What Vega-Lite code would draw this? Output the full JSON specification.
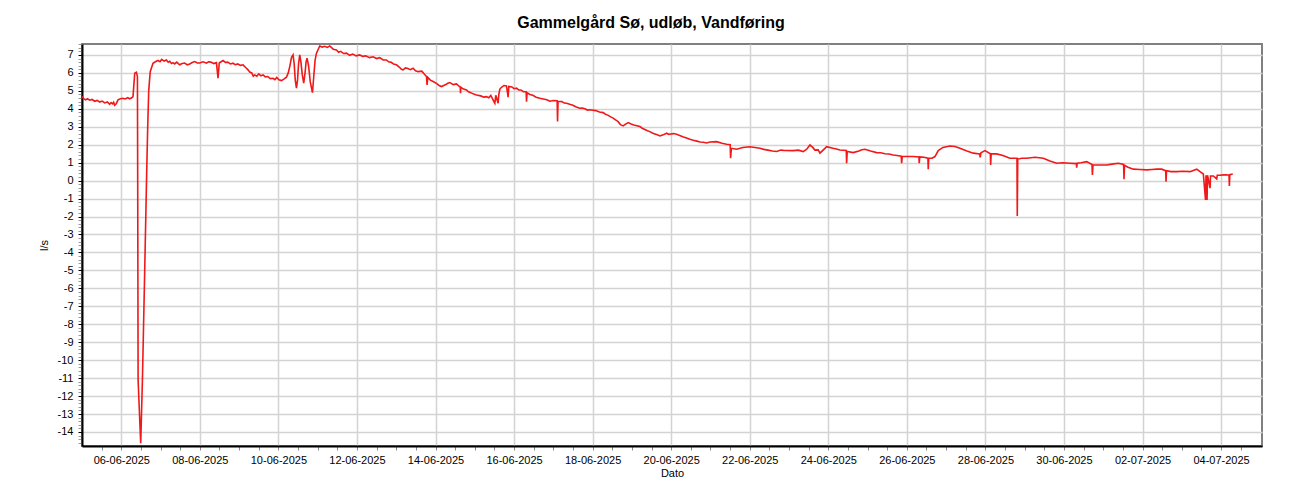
{
  "$schema": "https://vega.github.io/schema/vega-lite/v6.json",
  "autosize": {"type": "none"},
  "width": 1180,
  "height": 402,
  "padding": {"left": 82, "top": 44, "right": 38, "bottom": 54},
  "background": "white",
  "title": {
    "text": "Gammelgård Sø, udløb, Vandføring",
    "font": "Liberation Sans",
    "fontSize": 16,
    "fontWeight": "bold",
    "color": "black",
    "anchor": "middle",
    "dx": -21,
    "offset": 7
  },
  "config": {
    "view": {"stroke": "#808080", "strokeWidth": 2},
    "axis": {
      "labelFont": "Liberation Sans",
      "labelFontSize": 11,
      "labelColor": "black",
      "titleFont": "Liberation Sans",
      "titleFontSize": 11,
      "titleFontWeight": "normal",
      "titleColor": "black",
      "domainColor": "black",
      "domainWidth": 2,
      "gridColor": "#d3d3d3",
      "gridWidth": 1.5,
      "labelOverlap": false
    }
  },
  "data": {
    "values": [
      {"t": "2025-06-05T00:00", "v": 4.68},
      {"t": "2025-06-05T01:10", "v": 4.55},
      {"t": "2025-06-05T02:16", "v": 4.5},
      {"t": "2025-06-05T03:20", "v": 4.56},
      {"t": "2025-06-05T04:43", "v": 4.48},
      {"t": "2025-06-05T06:10", "v": 4.52},
      {"t": "2025-06-05T07:46", "v": 4.42},
      {"t": "2025-06-05T09:15", "v": 4.47},
      {"t": "2025-06-05T10:49", "v": 4.38},
      {"t": "2025-06-05T12:20", "v": 4.43},
      {"t": "2025-06-05T13:52", "v": 4.33},
      {"t": "2025-06-05T15:30", "v": 4.38},
      {"t": "2025-06-05T16:56", "v": 4.25},
      {"t": "2025-06-05T17:50", "v": 4.35},
      {"t": "2025-06-05T18:46", "v": 4.28},
      {"t": "2025-06-05T19:20", "v": 4.36},
      {"t": "2025-06-05T19:59", "v": 4.2},
      {"t": "2025-06-05T21:00", "v": 4.3},
      {"t": "2025-06-05T22:00", "v": 4.5},
      {"t": "2025-06-05T23:30", "v": 4.56},
      {"t": "2025-06-06T00:53", "v": 4.59},
      {"t": "2025-06-06T02:20", "v": 4.55},
      {"t": "2025-06-06T03:56", "v": 4.62},
      {"t": "2025-06-06T05:00", "v": 4.56},
      {"t": "2025-06-06T06:11", "v": 4.6},
      {"t": "2025-06-06T07:10", "v": 4.68},
      {"t": "2025-06-06T08:13", "v": 5.98},
      {"t": "2025-06-06T09:15", "v": 6.04},
      {"t": "2025-06-06T09:52", "v": 5.8},
      {"t": "2025-06-06T10:02", "v": 0},
      {"t": "2025-06-06T10:17", "v": -11.1},
      {"t": "2025-06-06T11:52", "v": -14.63},
      {"t": "2025-06-06T12:55", "v": -11.1},
      {"t": "2025-06-06T14:19", "v": -5},
      {"t": "2025-06-06T15:32", "v": 0.5},
      {"t": "2025-06-06T16:09", "v": 3.0},
      {"t": "2025-06-06T16:46", "v": 5.0},
      {"t": "2025-06-06T17:41", "v": 6.07},
      {"t": "2025-06-06T19:23", "v": 6.54},
      {"t": "2025-06-06T20:50", "v": 6.62},
      {"t": "2025-06-06T22:27", "v": 6.69},
      {"t": "2025-06-06T23:40", "v": 6.62},
      {"t": "2025-06-07T00:43", "v": 6.75},
      {"t": "2025-06-07T02:10", "v": 6.66},
      {"t": "2025-06-07T03:35", "v": 6.72},
      {"t": "2025-06-07T04:40", "v": 6.6},
      {"t": "2025-06-07T05:36", "v": 6.65},
      {"t": "2025-06-07T06:40", "v": 6.52},
      {"t": "2025-06-07T07:37", "v": 6.57},
      {"t": "2025-06-07T08:40", "v": 6.5},
      {"t": "2025-06-07T09:53", "v": 6.6},
      {"t": "2025-06-07T10:50", "v": 6.52},
      {"t": "2025-06-07T11:43", "v": 6.45},
      {"t": "2025-06-07T13:10", "v": 6.52},
      {"t": "2025-06-07T14:46", "v": 6.55},
      {"t": "2025-06-07T16:20", "v": 6.45},
      {"t": "2025-06-07T17:49", "v": 6.5},
      {"t": "2025-06-07T19:20", "v": 6.58},
      {"t": "2025-06-07T20:53", "v": 6.63},
      {"t": "2025-06-07T22:30", "v": 6.55},
      {"t": "2025-06-07T23:56", "v": 6.55},
      {"t": "2025-06-08T02:00", "v": 6.62},
      {"t": "2025-06-08T04:02", "v": 6.54},
      {"t": "2025-06-08T05:20", "v": 6.62},
      {"t": "2025-06-08T06:40", "v": 6.6},
      {"t": "2025-06-08T08:30", "v": 6.52},
      {"t": "2025-06-08T10:08", "v": 6.57},
      {"t": "2025-06-08T11:07", "v": 5.7},
      {"t": "2025-06-08T11:51", "v": 6.55},
      {"t": "2025-06-08T13:00", "v": 6.62},
      {"t": "2025-06-08T14:11", "v": 6.69},
      {"t": "2025-06-08T15:40", "v": 6.58},
      {"t": "2025-06-08T17:03", "v": 6.6},
      {"t": "2025-06-08T18:40", "v": 6.5},
      {"t": "2025-06-08T20:17", "v": 6.54},
      {"t": "2025-06-08T21:40", "v": 6.46},
      {"t": "2025-06-08T23:10", "v": 6.5},
      {"t": "2025-06-09T00:50", "v": 6.42},
      {"t": "2025-06-09T02:24", "v": 6.45},
      {"t": "2025-06-09T04:00", "v": 6.3},
      {"t": "2025-06-09T05:27", "v": 6.17},
      {"t": "2025-06-09T06:30", "v": 6.05},
      {"t": "2025-06-09T07:43", "v": 6.0},
      {"t": "2025-06-09T08:40", "v": 5.82},
      {"t": "2025-06-09T09:33", "v": 5.89},
      {"t": "2025-06-09T10:50", "v": 5.82},
      {"t": "2025-06-09T12:00", "v": 5.95},
      {"t": "2025-06-09T13:20", "v": 5.84},
      {"t": "2025-06-09T14:37", "v": 5.89},
      {"t": "2025-06-09T16:00", "v": 5.78},
      {"t": "2025-06-09T17:29", "v": 5.8},
      {"t": "2025-06-09T19:00", "v": 5.68},
      {"t": "2025-06-09T20:44", "v": 5.7},
      {"t": "2025-06-09T21:50", "v": 5.62},
      {"t": "2025-06-09T22:59", "v": 5.75},
      {"t": "2025-06-10T00:20", "v": 5.62},
      {"t": "2025-06-10T01:52", "v": 5.57},
      {"t": "2025-06-10T03:20", "v": 5.65},
      {"t": "2025-06-10T04:55", "v": 5.76},
      {"t": "2025-06-10T06:01", "v": 6.0},
      {"t": "2025-06-10T06:56", "v": 6.35},
      {"t": "2025-06-10T07:59", "v": 6.85},
      {"t": "2025-06-10T08:57", "v": 7.0},
      {"t": "2025-06-10T09:39", "v": 6.5},
      {"t": "2025-06-10T10:18", "v": 5.6},
      {"t": "2025-06-10T11:02", "v": 5.15},
      {"t": "2025-06-10T11:42", "v": 5.6},
      {"t": "2025-06-10T12:19", "v": 6.5},
      {"t": "2025-06-10T13:03", "v": 7.0},
      {"t": "2025-06-10T13:47", "v": 6.6},
      {"t": "2025-06-10T14:35", "v": 5.9},
      {"t": "2025-06-10T15:29", "v": 5.43},
      {"t": "2025-06-10T16:17", "v": 6.0},
      {"t": "2025-06-10T16:54", "v": 6.6},
      {"t": "2025-06-10T17:31", "v": 6.82},
      {"t": "2025-06-10T18:26", "v": 6.4},
      {"t": "2025-06-10T19:28", "v": 5.5},
      {"t": "2025-06-10T20:49", "v": 4.9},
      {"t": "2025-06-10T21:36", "v": 5.8},
      {"t": "2025-06-10T22:24", "v": 6.7},
      {"t": "2025-06-10T23:16", "v": 7.1},
      {"t": "2025-06-11T01:16", "v": 7.5},
      {"t": "2025-06-11T02:50", "v": 7.44},
      {"t": "2025-06-11T04:20", "v": 7.48},
      {"t": "2025-06-11T05:50", "v": 7.42},
      {"t": "2025-06-11T07:23", "v": 7.5},
      {"t": "2025-06-11T09:30", "v": 7.32},
      {"t": "2025-06-11T11:29", "v": 7.28},
      {"t": "2025-06-11T12:50", "v": 7.15},
      {"t": "2025-06-11T14:07", "v": 7.2},
      {"t": "2025-06-11T15:50", "v": 7.08},
      {"t": "2025-06-11T17:35", "v": 7.1},
      {"t": "2025-06-11T19:30", "v": 6.98},
      {"t": "2025-06-11T21:26", "v": 7.05},
      {"t": "2025-06-11T23:30", "v": 6.95},
      {"t": "2025-06-12T01:43", "v": 7.0},
      {"t": "2025-06-12T03:30", "v": 6.92},
      {"t": "2025-06-12T05:23", "v": 6.95},
      {"t": "2025-06-12T07:40", "v": 6.85},
      {"t": "2025-06-12T09:51", "v": 6.9},
      {"t": "2025-06-12T12:00", "v": 6.8},
      {"t": "2025-06-12T13:56", "v": 6.85},
      {"t": "2025-06-12T16:00", "v": 6.72},
      {"t": "2025-06-12T18:02", "v": 6.72},
      {"t": "2025-06-12T19:20", "v": 6.62},
      {"t": "2025-06-12T20:40", "v": 6.6},
      {"t": "2025-06-12T22:20", "v": 6.5},
      {"t": "2025-06-13T00:09", "v": 6.45},
      {"t": "2025-06-13T02:10", "v": 6.3},
      {"t": "2025-06-13T03:10", "v": 6.2},
      {"t": "2025-06-13T04:11", "v": 6.17},
      {"t": "2025-06-13T05:40", "v": 6.28},
      {"t": "2025-06-13T07:04", "v": 6.25},
      {"t": "2025-06-13T08:40", "v": 6.18},
      {"t": "2025-06-13T10:18", "v": 6.26},
      {"t": "2025-06-13T11:50", "v": 6.12},
      {"t": "2025-06-13T13:21", "v": 6.07},
      {"t": "2025-06-13T15:37", "v": 6.1},
      {"t": "2025-06-13T17:00", "v": 5.95},
      {"t": "2025-06-13T18:29", "v": 5.8},
      {"t": "2025-06-13T18:51", "v": 5.33},
      {"t": "2025-06-13T19:17", "v": 5.75},
      {"t": "2025-06-13T20:50", "v": 5.6},
      {"t": "2025-06-13T22:31", "v": 5.52},
      {"t": "2025-06-14T00:47", "v": 5.4},
      {"t": "2025-06-14T02:10", "v": 5.3},
      {"t": "2025-06-14T03:39", "v": 5.24},
      {"t": "2025-06-14T05:00", "v": 5.3},
      {"t": "2025-06-14T06:17", "v": 5.35},
      {"t": "2025-06-14T07:30", "v": 5.42},
      {"t": "2025-06-14T08:44", "v": 5.46},
      {"t": "2025-06-14T10:50", "v": 5.35},
      {"t": "2025-06-14T12:49", "v": 5.39},
      {"t": "2025-06-14T15:08", "v": 5.2},
      {"t": "2025-06-14T15:16", "v": 4.87},
      {"t": "2025-06-14T15:27", "v": 5.2},
      {"t": "2025-06-14T17:10", "v": 5.1},
      {"t": "2025-06-14T18:56", "v": 5.05},
      {"t": "2025-06-14T20:10", "v": 4.95},
      {"t": "2025-06-14T21:34", "v": 4.9},
      {"t": "2025-06-14T23:20", "v": 4.82},
      {"t": "2025-06-15T01:03", "v": 4.77},
      {"t": "2025-06-15T03:40", "v": 4.72},
      {"t": "2025-06-15T05:30", "v": 4.65},
      {"t": "2025-06-15T07:10", "v": 4.68},
      {"t": "2025-06-15T08:30", "v": 4.62},
      {"t": "2025-06-15T09:47", "v": 4.75},
      {"t": "2025-06-15T12:14", "v": 4.31},
      {"t": "2025-06-15T12:50", "v": 4.75},
      {"t": "2025-06-15T14:15", "v": 4.31},
      {"t": "2025-06-15T14:41", "v": 4.8},
      {"t": "2025-06-15T15:20", "v": 5.1},
      {"t": "2025-06-15T16:20", "v": 5.2},
      {"t": "2025-06-15T17:50", "v": 5.3},
      {"t": "2025-06-15T19:23", "v": 5.28},
      {"t": "2025-06-15T20:22", "v": 4.65},
      {"t": "2025-06-15T20:47", "v": 5.25},
      {"t": "2025-06-15T22:38", "v": 5.22},
      {"t": "2025-06-16T00:00", "v": 5.12},
      {"t": "2025-06-16T01:30", "v": 5.15},
      {"t": "2025-06-16T02:50", "v": 5.05},
      {"t": "2025-06-16T04:08", "v": 5.05},
      {"t": "2025-06-16T05:40", "v": 4.95},
      {"t": "2025-06-16T07:22", "v": 4.95},
      {"t": "2025-06-16T07:37", "v": 4.4},
      {"t": "2025-06-16T07:55", "v": 4.9},
      {"t": "2025-06-16T09:40", "v": 4.8},
      {"t": "2025-06-16T11:28", "v": 4.75},
      {"t": "2025-06-16T13:30", "v": 4.65},
      {"t": "2025-06-16T15:44", "v": 4.59},
      {"t": "2025-06-16T17:50", "v": 4.55},
      {"t": "2025-06-16T20:01", "v": 4.5},
      {"t": "2025-06-16T21:50", "v": 4.42},
      {"t": "2025-06-16T23:52", "v": 4.46},
      {"t": "2025-06-17T02:19", "v": 4.45},
      {"t": "2025-06-17T02:34", "v": 3.29},
      {"t": "2025-06-17T02:52", "v": 4.42},
      {"t": "2025-06-17T05:11", "v": 4.4},
      {"t": "2025-06-17T06:40", "v": 4.32},
      {"t": "2025-06-17T08:04", "v": 4.31},
      {"t": "2025-06-17T10:00", "v": 4.25},
      {"t": "2025-06-17T11:55", "v": 4.2},
      {"t": "2025-06-17T14:00", "v": 4.1},
      {"t": "2025-06-17T16:11", "v": 4.03},
      {"t": "2025-06-17T17:40", "v": 4.04},
      {"t": "2025-06-17T19:15", "v": 4.0},
      {"t": "2025-06-17T20:50", "v": 3.93},
      {"t": "2025-06-17T22:18", "v": 3.95},
      {"t": "2025-06-18T01:58", "v": 3.9},
      {"t": "2025-06-18T04:10", "v": 3.82},
      {"t": "2025-06-18T06:26", "v": 3.79},
      {"t": "2025-06-18T07:50", "v": 3.7},
      {"t": "2025-06-18T09:18", "v": 3.65},
      {"t": "2025-06-18T11:00", "v": 3.55},
      {"t": "2025-06-18T12:32", "v": 3.48},
      {"t": "2025-06-18T14:00", "v": 3.38},
      {"t": "2025-06-18T15:25", "v": 3.3},
      {"t": "2025-06-18T17:00", "v": 3.12},
      {"t": "2025-06-18T18:39", "v": 3.05},
      {"t": "2025-06-18T20:10", "v": 3.15},
      {"t": "2025-06-18T21:43", "v": 3.23},
      {"t": "2025-06-18T23:30", "v": 3.15},
      {"t": "2025-06-19T01:11", "v": 3.1},
      {"t": "2025-06-19T03:00", "v": 3.06},
      {"t": "2025-06-19T04:52", "v": 3.01},
      {"t": "2025-06-19T06:20", "v": 2.92},
      {"t": "2025-06-19T07:55", "v": 2.85},
      {"t": "2025-06-19T09:30", "v": 2.78},
      {"t": "2025-06-19T10:58", "v": 2.73},
      {"t": "2025-06-19T12:30", "v": 2.65},
      {"t": "2025-06-19T14:02", "v": 2.6},
      {"t": "2025-06-19T15:30", "v": 2.55},
      {"t": "2025-06-19T17:05", "v": 2.49},
      {"t": "2025-06-19T19:10", "v": 2.55},
      {"t": "2025-06-19T21:11", "v": 2.64},
      {"t": "2025-06-19T22:30", "v": 2.58},
      {"t": "2025-06-19T23:49", "v": 2.6},
      {"t": "2025-06-20T01:30", "v": 2.62},
      {"t": "2025-06-20T03:18", "v": 2.58},
      {"t": "2025-06-20T05:10", "v": 2.52},
      {"t": "2025-06-20T07:09", "v": 2.45},
      {"t": "2025-06-20T09:20", "v": 2.38},
      {"t": "2025-06-20T11:25", "v": 2.31},
      {"t": "2025-06-20T13:30", "v": 2.25},
      {"t": "2025-06-20T15:42", "v": 2.2},
      {"t": "2025-06-20T17:40", "v": 2.15},
      {"t": "2025-06-20T19:33", "v": 2.14},
      {"t": "2025-06-20T21:40", "v": 2.1},
      {"t": "2025-06-20T23:39", "v": 2.15},
      {"t": "2025-06-21T03:44", "v": 2.17},
      {"t": "2025-06-21T06:59", "v": 2.08},
      {"t": "2025-06-21T09:51", "v": 2.03},
      {"t": "2025-06-21T12:03", "v": 2.0},
      {"t": "2025-06-21T12:18", "v": 1.25},
      {"t": "2025-06-21T12:47", "v": 1.8},
      {"t": "2025-06-21T15:58", "v": 1.75},
      {"t": "2025-06-21T19:49", "v": 1.85},
      {"t": "2025-06-22T00:06", "v": 1.89},
      {"t": "2025-06-22T03:10", "v": 1.85},
      {"t": "2025-06-22T06:13", "v": 1.8},
      {"t": "2025-06-22T08:40", "v": 1.74},
      {"t": "2025-06-22T11:06", "v": 1.7},
      {"t": "2025-06-22T13:50", "v": 1.65},
      {"t": "2025-06-22T16:25", "v": 1.62},
      {"t": "2025-06-22T19:00", "v": 1.7},
      {"t": "2025-06-22T21:29", "v": 1.68},
      {"t": "2025-06-23T02:34", "v": 1.67},
      {"t": "2025-06-23T05:40", "v": 1.7},
      {"t": "2025-06-23T08:41", "v": 1.62},
      {"t": "2025-06-23T10:50", "v": 1.75},
      {"t": "2025-06-23T12:46", "v": 1.99},
      {"t": "2025-06-23T14:30", "v": 1.85},
      {"t": "2025-06-23T15:50", "v": 1.7},
      {"t": "2025-06-23T17:50", "v": 1.71},
      {"t": "2025-06-23T18:53", "v": 1.53},
      {"t": "2025-06-23T20:50", "v": 1.7},
      {"t": "2025-06-23T22:59", "v": 1.89},
      {"t": "2025-06-24T02:50", "v": 1.8},
      {"t": "2025-06-24T05:00", "v": 1.76},
      {"t": "2025-06-24T07:07", "v": 1.71},
      {"t": "2025-06-24T10:58", "v": 1.68},
      {"t": "2025-06-24T11:12", "v": 0.97},
      {"t": "2025-06-24T11:34", "v": 1.62},
      {"t": "2025-06-24T15:14", "v": 1.56},
      {"t": "2025-06-24T18:43", "v": 1.65},
      {"t": "2025-06-24T20:30", "v": 1.72},
      {"t": "2025-06-24T22:23", "v": 1.75},
      {"t": "2025-06-25T01:52", "v": 1.65},
      {"t": "2025-06-25T05:32", "v": 1.56},
      {"t": "2025-06-25T08:00", "v": 1.55},
      {"t": "2025-06-25T10:37", "v": 1.5},
      {"t": "2025-06-25T13:00", "v": 1.48},
      {"t": "2025-06-25T15:41", "v": 1.43},
      {"t": "2025-06-25T18:00", "v": 1.4},
      {"t": "2025-06-25T20:34", "v": 1.36},
      {"t": "2025-06-25T20:49", "v": 0.97},
      {"t": "2025-06-25T21:11", "v": 1.34},
      {"t": "2025-06-26T00:40", "v": 1.34},
      {"t": "2025-06-26T03:54", "v": 1.34},
      {"t": "2025-06-26T07:23", "v": 1.32},
      {"t": "2025-06-26T07:34", "v": 0.97},
      {"t": "2025-06-26T07:52", "v": 1.32},
      {"t": "2025-06-26T10:26", "v": 1.3},
      {"t": "2025-06-26T12:53", "v": 1.25},
      {"t": "2025-06-26T13:04", "v": 0.64},
      {"t": "2025-06-26T13:22", "v": 1.25},
      {"t": "2025-06-26T15:20", "v": 1.25},
      {"t": "2025-06-26T17:10", "v": 1.34},
      {"t": "2025-06-26T19:11", "v": 1.67},
      {"t": "2025-06-26T22:03", "v": 1.85},
      {"t": "2025-06-27T02:20", "v": 1.93},
      {"t": "2025-06-27T05:23", "v": 1.9},
      {"t": "2025-06-27T08:26", "v": 1.8},
      {"t": "2025-06-27T12:43", "v": 1.65},
      {"t": "2025-06-27T16:34", "v": 1.53},
      {"t": "2025-06-27T20:32", "v": 1.49},
      {"t": "2025-06-27T20:47", "v": 1.3},
      {"t": "2025-06-27T21:17", "v": 1.55},
      {"t": "2025-06-27T23:43", "v": 1.67},
      {"t": "2025-06-28T03:01", "v": 1.5},
      {"t": "2025-06-28T03:12", "v": 0.87},
      {"t": "2025-06-28T03:31", "v": 1.5},
      {"t": "2025-06-28T06:52", "v": 1.49},
      {"t": "2025-06-28T10:43", "v": 1.4},
      {"t": "2025-06-28T15:00", "v": 1.25},
      {"t": "2025-06-28T19:17", "v": 1.25},
      {"t": "2025-06-28T19:28", "v": -1.97},
      {"t": "2025-06-28T19:46", "v": 1.2},
      {"t": "2025-06-28T22:20", "v": 1.25},
      {"t": "2025-06-29T01:13", "v": 1.25},
      {"t": "2025-06-29T06:17", "v": 1.3},
      {"t": "2025-06-29T11:22", "v": 1.25},
      {"t": "2025-06-29T15:27", "v": 1.1},
      {"t": "2025-06-29T19:33", "v": 0.97},
      {"t": "2025-06-29T23:24", "v": 1.0},
      {"t": "2025-06-30T03:41", "v": 0.97},
      {"t": "2025-06-30T07:35", "v": 0.95},
      {"t": "2025-06-30T07:46", "v": 0.72},
      {"t": "2025-06-30T08:05", "v": 0.97},
      {"t": "2025-06-30T10:24", "v": 1.0},
      {"t": "2025-06-30T13:53", "v": 1.06},
      {"t": "2025-06-30T17:07", "v": 0.9},
      {"t": "2025-06-30T17:22", "v": 0.32},
      {"t": "2025-06-30T17:44", "v": 0.88},
      {"t": "2025-06-30T22:01", "v": 0.87},
      {"t": "2025-07-01T02:07", "v": 0.87},
      {"t": "2025-07-01T05:21", "v": 0.92},
      {"t": "2025-07-01T09:12", "v": 0.97},
      {"t": "2025-07-01T12:26", "v": 0.9},
      {"t": "2025-07-01T12:41", "v": 0.08},
      {"t": "2025-07-01T12:59", "v": 0.85},
      {"t": "2025-07-01T15:08", "v": 0.75},
      {"t": "2025-07-01T18:22", "v": 0.64},
      {"t": "2025-07-01T22:28", "v": 0.62},
      {"t": "2025-07-02T02:34", "v": 0.6},
      {"t": "2025-07-02T05:48", "v": 0.62},
      {"t": "2025-07-02T08:40", "v": 0.64},
      {"t": "2025-07-02T11:44", "v": 0.64},
      {"t": "2025-07-02T14:10", "v": 0.55},
      {"t": "2025-07-02T14:22", "v": -0.06},
      {"t": "2025-07-02T14:40", "v": 0.55},
      {"t": "2025-07-02T17:25", "v": 0.5},
      {"t": "2025-07-02T20:54", "v": 0.5},
      {"t": "2025-07-03T00:45", "v": 0.52},
      {"t": "2025-07-03T05:01", "v": 0.5},
      {"t": "2025-07-03T09:07", "v": 0.64},
      {"t": "2025-07-03T11:08", "v": 0.5},
      {"t": "2025-07-03T13:09", "v": 0.37},
      {"t": "2025-07-03T14:30", "v": -1.08},
      {"t": "2025-07-03T14:48", "v": 0.3},
      {"t": "2025-07-03T15:25", "v": -1.08},
      {"t": "2025-07-03T15:43", "v": 0.3},
      {"t": "2025-07-03T17:15", "v": -0.42},
      {"t": "2025-07-03T17:33", "v": 0.26},
      {"t": "2025-07-03T19:16", "v": 0.26},
      {"t": "2025-07-03T21:20", "v": 0.1},
      {"t": "2025-07-03T21:39", "v": 0.3},
      {"t": "2025-07-03T23:22", "v": 0.3},
      {"t": "2025-07-04T01:23", "v": 0.32},
      {"t": "2025-07-04T03:02", "v": 0.33},
      {"t": "2025-07-04T04:52", "v": 0.3},
      {"t": "2025-07-04T05:03", "v": -0.3},
      {"t": "2025-07-04T05:21", "v": 0.33},
      {"t": "2025-07-04T07:08", "v": 0.37}
    ]
  },
  "mark": {"type": "line", "color": "#f01818", "strokeWidth": 1.6, "interpolate": "linear"},
  "encoding": {
    "x": {
      "field": "t",
      "type": "temporal",
      "scale": {
        "domain": [
          {"year": 2025, "month": 6, "date": 5, "hours": 0},
          {"year": 2025, "month": 7, "date": 5, "hours": 1}
        ],
        "nice": false
      },
      "axis": {
        "title": "Dato",
        "titlePadding": 2,
        "values": [
          {"year": 2025, "month": 6, "date": 5, "hours": 12},
          {"year": 2025, "month": 6, "date": 6, "hours": 0},
          {"year": 2025, "month": 6, "date": 6, "hours": 12},
          {"year": 2025, "month": 6, "date": 7, "hours": 0},
          {"year": 2025, "month": 6, "date": 7, "hours": 12},
          {"year": 2025, "month": 6, "date": 8, "hours": 0},
          {"year": 2025, "month": 6, "date": 8, "hours": 12},
          {"year": 2025, "month": 6, "date": 9, "hours": 0},
          {"year": 2025, "month": 6, "date": 9, "hours": 12},
          {"year": 2025, "month": 6, "date": 10, "hours": 0},
          {"year": 2025, "month": 6, "date": 10, "hours": 12},
          {"year": 2025, "month": 6, "date": 11, "hours": 0},
          {"year": 2025, "month": 6, "date": 11, "hours": 12},
          {"year": 2025, "month": 6, "date": 12, "hours": 0},
          {"year": 2025, "month": 6, "date": 12, "hours": 12},
          {"year": 2025, "month": 6, "date": 13, "hours": 0},
          {"year": 2025, "month": 6, "date": 13, "hours": 12},
          {"year": 2025, "month": 6, "date": 14, "hours": 0},
          {"year": 2025, "month": 6, "date": 14, "hours": 12},
          {"year": 2025, "month": 6, "date": 15, "hours": 0},
          {"year": 2025, "month": 6, "date": 15, "hours": 12},
          {"year": 2025, "month": 6, "date": 16, "hours": 0},
          {"year": 2025, "month": 6, "date": 16, "hours": 12},
          {"year": 2025, "month": 6, "date": 17, "hours": 0},
          {"year": 2025, "month": 6, "date": 17, "hours": 12},
          {"year": 2025, "month": 6, "date": 18, "hours": 0},
          {"year": 2025, "month": 6, "date": 18, "hours": 12},
          {"year": 2025, "month": 6, "date": 19, "hours": 0},
          {"year": 2025, "month": 6, "date": 19, "hours": 12},
          {"year": 2025, "month": 6, "date": 20, "hours": 0},
          {"year": 2025, "month": 6, "date": 20, "hours": 12},
          {"year": 2025, "month": 6, "date": 21, "hours": 0},
          {"year": 2025, "month": 6, "date": 21, "hours": 12},
          {"year": 2025, "month": 6, "date": 22, "hours": 0},
          {"year": 2025, "month": 6, "date": 22, "hours": 12},
          {"year": 2025, "month": 6, "date": 23, "hours": 0},
          {"year": 2025, "month": 6, "date": 23, "hours": 12},
          {"year": 2025, "month": 6, "date": 24, "hours": 0},
          {"year": 2025, "month": 6, "date": 24, "hours": 12},
          {"year": 2025, "month": 6, "date": 25, "hours": 0},
          {"year": 2025, "month": 6, "date": 25, "hours": 12},
          {"year": 2025, "month": 6, "date": 26, "hours": 0},
          {"year": 2025, "month": 6, "date": 26, "hours": 12},
          {"year": 2025, "month": 6, "date": 27, "hours": 0},
          {"year": 2025, "month": 6, "date": 27, "hours": 12},
          {"year": 2025, "month": 6, "date": 28, "hours": 0},
          {"year": 2025, "month": 6, "date": 28, "hours": 12},
          {"year": 2025, "month": 6, "date": 29, "hours": 0},
          {"year": 2025, "month": 6, "date": 29, "hours": 12},
          {"year": 2025, "month": 6, "date": 30, "hours": 0},
          {"year": 2025, "month": 6, "date": 30, "hours": 12},
          {"year": 2025, "month": 7, "date": 1, "hours": 0},
          {"year": 2025, "month": 7, "date": 1, "hours": 12},
          {"year": 2025, "month": 7, "date": 2, "hours": 0},
          {"year": 2025, "month": 7, "date": 2, "hours": 12},
          {"year": 2025, "month": 7, "date": 3, "hours": 0},
          {"year": 2025, "month": 7, "date": 3, "hours": 12},
          {"year": 2025, "month": 7, "date": 4, "hours": 0},
          {"year": 2025, "month": 7, "date": 4, "hours": 12}
        ],
        "labelExpr": "(hours(datum.value) == 0 && date(datum.value) % 2 == 0) ? timeFormat(datum.value, '%d-%m-%Y') : ''",
        "labelPadding": 4,
        "tickSize": 4,
        "tickColor": "#888888",
        "gridOpacity": {"condition": {"test": "hours(datum.value) == 0 && date(datum.value) % 2 == 0", "value": 1}, "value": 0}
      }
    },
    "y": {
      "field": "v",
      "type": "quantitative",
      "scale": {"domain": [-14.78, 7.61], "nice": false, "zero": false},
      "axis": {
        "title": "l/s",
        "titlePadding": 8,
        "tickCount": 110,
        "labelExpr": "abs(datum.value - round(datum.value)) < 0.001 ? '' + round(datum.value) : ''",
        "labelPadding": 5,
        "tickSize": 4,
        "tickColor": {"condition": {"test": "abs(datum.value - round(datum.value)) < 0.001", "value": "black"}, "value": "#999999"},
        "gridOpacity": {"condition": {"test": "abs(datum.value - round(datum.value)) < 0.001", "value": 1}, "value": 0}
      }
    }
  }
}
